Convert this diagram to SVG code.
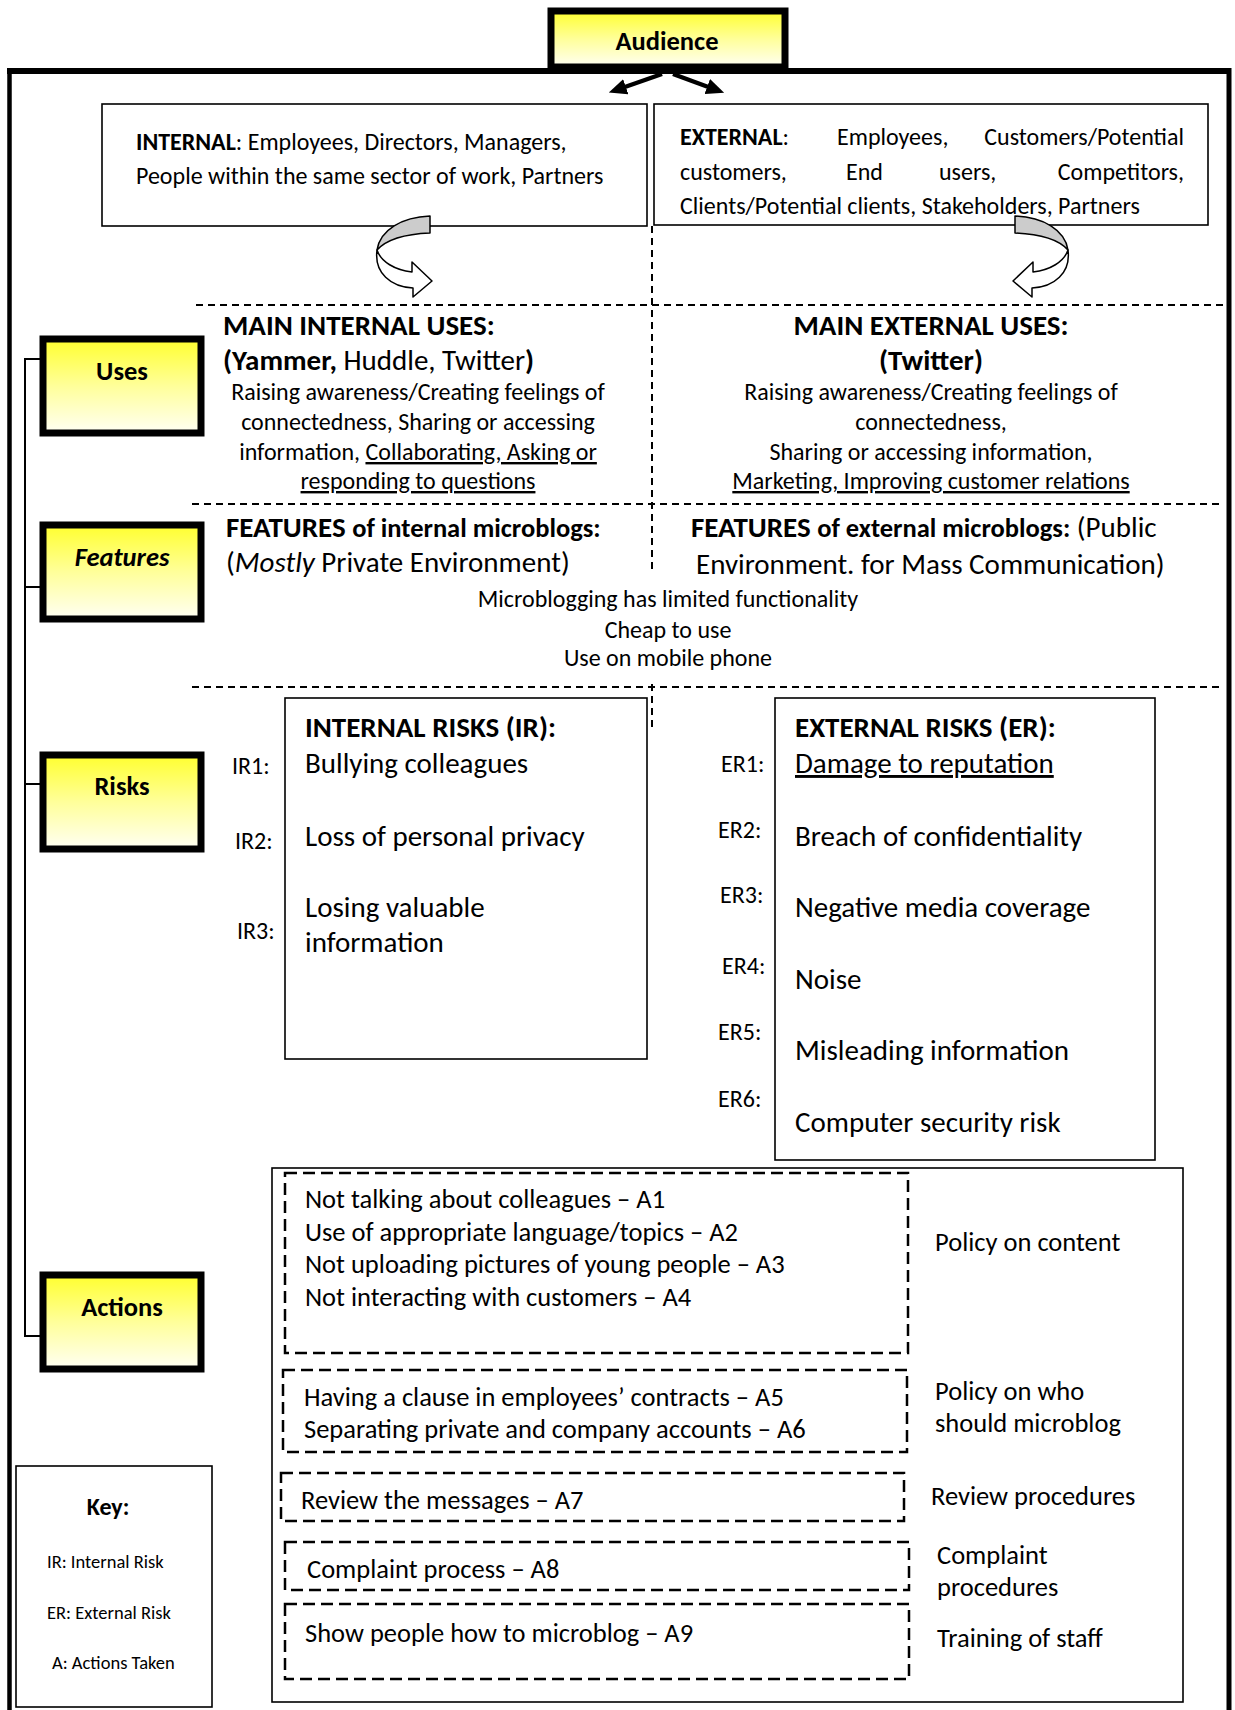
<svg xmlns="http://www.w3.org/2000/svg" width="1235" height="1710" viewBox="0 0 1235 1710">
<defs>
  <linearGradient id="yg" x1="0" y1="0" x2="0" y2="1">
    <stop offset="0" stop-color="#ffff2e"/>
    <stop offset="0.5" stop-color="#ffff9a"/>
    <stop offset="1" stop-color="#fffff4"/>
  </linearGradient>
  <marker id="ah" markerUnits="userSpaceOnUse" markerWidth="18" markerHeight="16" viewBox="0 0 18 16" refX="4" refY="8" orient="auto">
    <path d="M0,0 L18,8 L0,16 Z" fill="#000"/>
  </marker>
  <g id="curl">
    <path d="M430,216 C402,217 380,230 377,250 C386,240 405,234 430,233 Z" fill="#cccccc" stroke="#000" stroke-width="1.5" stroke-linejoin="round"/>
    <path d="M377,250 C381,262 395,270 412,272 L412,262 L432,281 L413,297 L413,288 C391,287 374,273 377,250 Z" fill="#fff" stroke="#000" stroke-width="1.5" stroke-linejoin="round"/>
  </g>
  <style>
    text { font-family: Carlito, Lato, "Liberation Sans", sans-serif; fill: #000; }
    .b { font-weight: bold; }
    .i { font-style: italic; }
    .u { text-decoration: underline; }
    .s20 { font-size: 24px; }
    .s22 { font-size: 26.5px; }
    .s24 { font-size: 29px; }
    .s15 { font-size: 18.5px; }
    .mid { text-anchor: middle; }
    .end { text-anchor: end; }
    .lbl { fill: url(#yg); stroke: #000; stroke-width: 7; }
    .box { fill: #fff; stroke: #000; stroke-width: 1.6; }
    .dash { fill: none; stroke: #000; stroke-width: 2; stroke-dasharray: 7 5; }
    .dbox { fill: none; stroke: #000; stroke-width: 2.5; stroke-dasharray: 12 6; }
    .con { fill: none; stroke: #000; stroke-width: 2; }
  </style>
</defs>
<rect x="0" y="0" width="1235" height="1710" fill="#fff"/>

<!-- outer frame -->
<g id="frame">
  <line x1="9.5" y1="68" x2="9.5" y2="1710" stroke="#000" stroke-width="4.5"/>
  <line x1="1229" y1="68" x2="1229" y2="1710" stroke="#000" stroke-width="5"/>
  <line x1="7" y1="71" x2="1231" y2="71" stroke="#000" stroke-width="6"/>
</g>

<!-- connectors -->
<g id="connectors">
  <path class="con" d="M40,359 H25 V1336 H40"/>
  <path class="con" d="M25,587 H40"/>
  <path class="con" d="M25,784 H40"/>
  <line x1="662" y1="74" x2="622" y2="88" stroke="#000" stroke-width="4.5" marker-end="url(#ah)"/>
  <line x1="673" y1="74" x2="711" y2="88" stroke="#000" stroke-width="4.5" marker-end="url(#ah)"/>
  <line class="dash" x1="652" y1="226" x2="652" y2="573"/>
  <line class="dash" x1="652" y1="684" x2="652" y2="728"/>
  <line class="dash" x1="196" y1="305" x2="1224" y2="305"/>
  <line class="dash" x1="192" y1="504" x2="1220" y2="504"/>
  <line class="dash" x1="192" y1="687" x2="1220" y2="687"/>
</g>

<!-- Audience -->
<g id="audience">
  <rect class="lbl" x="551" y="11" width="234" height="56"/>
  <text class="b s22 mid" x="667" y="50">Audience</text>
</g>

<!-- Internal audience -->
<g id="internal-audience">
  <rect class="box" x="102" y="104" width="545" height="122"/>
  <text class="s20" x="136" y="150"><tspan class="b">INTERNAL</tspan>: Employees, Directors, Managers,</text>
  <text class="s20" x="136" y="184">People within the same sector of work, Partners</text>
</g>

<!-- External audience -->
<g id="external-audience">
  <rect class="box" x="654" y="104" width="554" height="121"/>
  <text class="s20" x="680" y="145"><tspan class="b">EXTERNAL</tspan>:</text>
  <text class="s20" x="837" y="145">Employees,</text>
  <text class="s20 end" x="1184" y="145">Customers/Potential</text>
  <text class="s20" x="680" y="180">customers,</text>
  <text class="s20" x="846" y="180">End</text>
  <text class="s20" x="939" y="180">users,</text>
  <text class="s20 end" x="1184" y="180">Competitors,</text>
  <text class="s20" x="680" y="214">Clients/Potential clients, Stakeholders, Partners</text>
</g>

<g id="curl-left"><use href="#curl"/></g>
<g id="curl-right"><use href="#curl" transform="translate(1445,0) scale(-1,1)"/></g>

<!-- Side labels -->
<g id="uses-label">
  <rect class="lbl" x="43" y="339" width="158" height="94"/>
  <text class="b s22 mid" x="122" y="380">Uses</text>
</g>
<g id="features-label">
  <rect class="lbl" x="43" y="525" width="158" height="94"/>
  <text class="b i s22 mid" x="122" y="566">Features</text>
</g>
<g id="risks-label">
  <rect class="lbl" x="43" y="755" width="158" height="94"/>
  <text class="b s22 mid" x="122" y="795">Risks</text>
</g>
<g id="actions-label">
  <rect class="lbl" x="43" y="1275" width="158" height="94"/>
  <text class="b s22 mid" x="122" y="1316">Actions</text>
</g>

<!-- Uses -->
<g id="internal-uses">
  <text class="b s24" x="223" y="335">MAIN INTERNAL USES:</text>
  <text class="s24" x="223" y="370"><tspan class="b">(Yammer,</tspan> Huddle, Twitter<tspan class="b">)</tspan></text>
  <text class="s20 mid" x="418" y="400">Raising awareness/Creating feelings of</text>
  <text class="s20 mid" x="418" y="430">connectedness, Sharing or accessing</text>
  <text class="s20 mid" x="418" y="460">information, <tspan class="u">Collaborating, Asking or</tspan></text>
  <text class="s20 mid u" x="418" y="489">responding to questions</text>
</g>
<g id="external-uses">
  <text class="b s24 mid" x="931" y="335">MAIN EXTERNAL USES:</text>
  <text class="b s24 mid" x="931" y="370">(Twitter)</text>
  <text class="s20 mid" x="931" y="400">Raising awareness/Creating feelings of</text>
  <text class="s20 mid" x="931" y="430">connectedness,</text>
  <text class="s20 mid" x="931" y="460">Sharing or accessing information,</text>
  <text class="s20 mid u" x="931" y="489">Marketing, Improving customer relations</text>
</g>

<!-- Features -->
<g id="internal-features">
  <text class="b s24" x="226" y="537">FEATURES <tspan style="font-size:26.5px">of internal microblogs:</tspan></text>
  <text class="s24" x="226" y="572">(<tspan class="i">Mostly</tspan> Private Environment)</text>
</g>
<g id="external-features">
  <text class="s24" x="691" y="537"><tspan class="b">FEATURES </tspan><tspan class="b" style="font-size:26.5px">of external microblogs:</tspan> (Public</text>
  <text class="s24" x="696" y="574">Environment. for Mass Communication)</text>
</g>
<g id="common-features">
  <text class="s20 mid" x="668" y="607">Microblogging has limited functionality</text>
  <text class="s20 mid" x="668" y="638">Cheap to use</text>
  <text class="s20 mid" x="668" y="666">Use on mobile phone</text>
</g>

<!-- Risks -->
<g id="internal-risks">
  <rect class="box" x="285" y="698" width="362" height="361"/>
  <text class="b s24" x="305" y="737">INTERNAL RISKS (IR):</text>
  <text class="s24" x="305" y="773">Bullying colleagues</text>
  <text class="s24" x="305" y="846">Loss of personal privacy</text>
  <text class="s24" x="305" y="917">Losing valuable</text>
  <text class="s24" x="305" y="952">information</text>
  <text class="s20" x="232" y="774">IR1:</text>
  <text class="s20" x="235" y="849">IR2:</text>
  <text class="s20" x="237" y="939">IR3:</text>
</g>
<g id="external-risks">
  <rect class="box" x="775" y="698" width="380" height="462"/>
  <text class="b s24" x="795" y="737">EXTERNAL RISKS (ER):</text>
  <text class="s24 u" x="795" y="773">Damage to reputation</text>
  <text class="s24" x="795" y="846">Breach of confidentiality</text>
  <text class="s24" x="795" y="917">Negative media coverage</text>
  <text class="s24" x="795" y="989">Noise</text>
  <text class="s24" x="795" y="1060">Misleading information</text>
  <text class="s24" x="795" y="1132">Computer security risk</text>
  <text class="s20" x="721" y="772">ER1:</text>
  <text class="s20" x="718" y="838">ER2:</text>
  <text class="s20" x="720" y="903">ER3:</text>
  <text class="s20" x="722" y="974">ER4:</text>
  <text class="s20" x="718" y="1040">ER5:</text>
  <text class="s20" x="718" y="1107">ER6:</text>
</g>

<!-- Actions -->
<g id="actions">
  <rect class="box" x="272" y="1168" width="911" height="534"/>
  <rect class="dbox" x="285" y="1173" width="623" height="180"/>
  <text class="s22" x="305" y="1208">Not talking about colleagues – A1</text>
  <text class="s22" x="305" y="1241">Use of appropriate language/topics – A2</text>
  <text class="s22" x="305" y="1273">Not uploading pictures of young people – A3</text>
  <text class="s22" x="305" y="1306">Not interacting with customers – A4</text>
  <text class="s22" x="935" y="1251">Policy on content</text>

  <rect class="dbox" x="283" y="1370" width="624" height="82"/>
  <text class="s22" x="304" y="1406">Having a clause in employees’ contracts – A5</text>
  <text class="s22" x="304" y="1438">Separating private and company accounts – A6</text>
  <text class="s22" x="935" y="1400">Policy on who</text>
  <text class="s22" x="935" y="1432">should microblog</text>

  <rect class="dbox" x="281" y="1473" width="623" height="48"/>
  <text class="s22" x="301" y="1509">Review the messages – A7</text>
  <text class="s22" x="931" y="1505">Review procedures</text>

  <rect class="dbox" x="285" y="1542" width="624" height="48"/>
  <text class="s22" x="307" y="1578">Complaint process – A8</text>
  <text class="s22" x="937" y="1564">Complaint</text>
  <text class="s22" x="937" y="1596">procedures</text>

  <rect class="dbox" x="285" y="1604" width="624" height="75"/>
  <text class="s22" x="305" y="1642">Show people how to microblog – A9</text>
  <text class="s22" x="937" y="1647">Training of staff</text>
</g>

<!-- Key -->
<g id="key">
  <rect class="box" x="16" y="1466" width="196" height="241"/>
  <text class="b s20 mid" x="108" y="1515">Key:</text>
  <text class="s15" x="47" y="1568">IR: Internal Risk</text>
  <text class="s15" x="47" y="1619">ER: External Risk</text>
  <text class="s15" x="52" y="1669">A: Actions Taken</text>
</g>
</svg>
